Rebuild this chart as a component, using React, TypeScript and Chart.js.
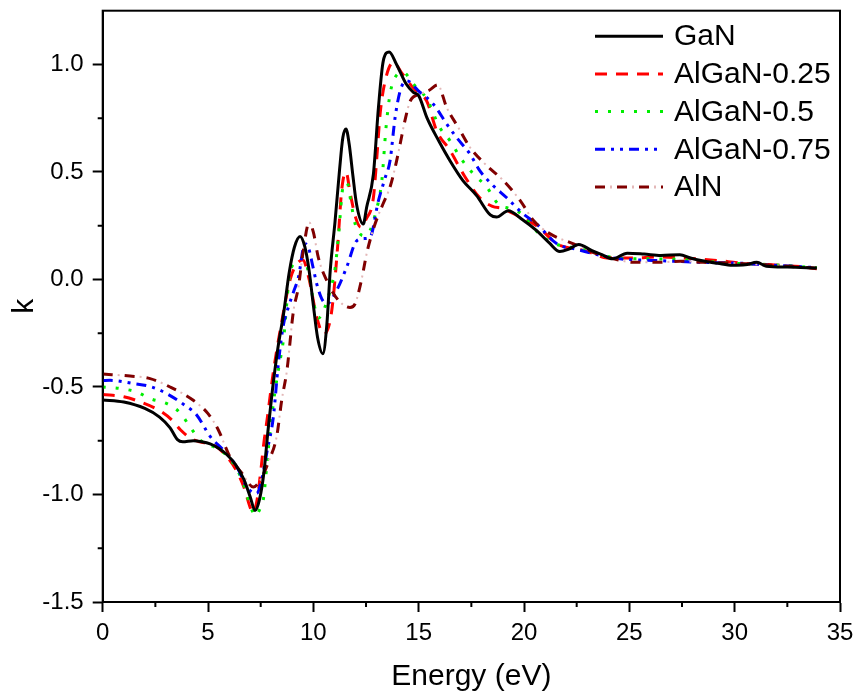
import React, { useEffect, useRef } from "react";
import { Chart, registerables } from "chart.js";

Chart.register(...registerables);

// ---------- data ----------
const seriesNames = ["GaN", "AlGaN-0.25", "AlGaN-0.5", "AlGaN-0.75", "AlN"];

const ganE = [0, 1.0, 2.0, 2.7, 3.2, 3.55, 3.8, 4.3, 4.7, 5.1, 5.5, 5.9, 6.3, 6.7, 7.0, 7.23, 7.45, 7.65, 7.85, 8.05, 8.3, 8.6, 8.85, 9.1, 9.37, 9.6, 9.8, 10.0, 10.2, 10.45, 10.64, 10.8, 11.03, 11.24, 11.4, 11.55, 11.7, 11.88, 12.05, 12.37, 12.53, 12.85, 13.09, 13.32, 13.6, 13.95, 14.4, 14.75, 15.0, 15.4, 15.95, 16.5, 17.1, 17.75, 18.4, 18.7, 19.25, 19.9, 20.6, 21.2, 21.7, 22.1, 22.6, 23.2, 23.7, 24.2, 24.9, 25.7, 26.5, 27.4, 27.9, 28.4, 29.2, 29.9, 30.5, 31.05, 31.5, 32.5, 33.9];
const ganK = [-0.56, -0.57, -0.6, -0.64, -0.69, -0.745, -0.755, -0.75, -0.755, -0.765, -0.785, -0.815, -0.86, -0.93, -1.01, -1.075, -1.02, -0.9, -0.7, -0.52, -0.33, -0.15, 0.03, 0.15, 0.2, 0.15, 0.04, -0.12, -0.27, -0.345, -0.21, 0.04, 0.27, 0.506, 0.66, 0.7, 0.63, 0.48, 0.35, 0.258, 0.336, 0.49, 0.8, 1.017, 1.058, 1.0, 0.91, 0.87, 0.855, 0.75, 0.645, 0.55, 0.46, 0.39, 0.3, 0.29, 0.32, 0.28, 0.227, 0.17, 0.13, 0.14, 0.163, 0.135, 0.115, 0.096, 0.122, 0.118, 0.112, 0.115, 0.1, 0.088, 0.075, 0.066, 0.068, 0.08, 0.062, 0.058, 0.053];

const al25E = [0, 1.0, 1.8, 2.7, 3.3, 3.7, 4.2, 4.6, 5.1, 5.5, 5.9, 6.3, 6.7, 7.0, 7.12, 7.3, 7.47, 7.65, 7.8, 8.1, 8.42, 8.9, 9.2, 9.5, 9.8, 10.16, 10.5, 10.8, 10.95, 11.15, 11.35, 11.55, 11.75, 12.0, 12.25, 12.5, 12.85, 13.0, 13.17, 13.4, 13.8, 14.2, 14.75, 15.38, 15.86, 16.49, 17.12, 17.9, 18.5, 19.0, 19.8, 20.6, 21.56, 22.0, 22.66, 23.3, 23.93, 25.2, 26.3, 27.5, 29.0, 30.5, 31.5, 33.1, 33.9];
const al25K = [-0.535, -0.545, -0.57, -0.61, -0.655, -0.7, -0.74, -0.755, -0.765, -0.785, -0.825, -0.88, -0.965, -1.06, -1.085, -1.04, -0.92, -0.76, -0.655, -0.43, -0.24, 0.0, 0.07, 0.09, 0.0, -0.175, -0.255, -0.19, -0.08, 0.15, 0.42, 0.5, 0.4, 0.29, 0.243, 0.28, 0.38, 0.55, 0.77, 0.92, 1.01, 0.96, 0.89, 0.83, 0.69, 0.6, 0.49, 0.38, 0.34, 0.33, 0.29, 0.25, 0.166, 0.15, 0.14, 0.12, 0.1, 0.1, 0.105, 0.1, 0.09, 0.075, 0.07, 0.06, 0.05];

const al50E = [0, 0.8, 1.6, 2.25, 3.1, 3.67, 4.15, 4.62, 5.1, 5.5, 5.9, 6.3, 6.68, 7.0, 7.25, 7.45, 7.63, 7.85, 8.1, 8.34, 8.58, 8.89, 9.2, 9.5, 9.8, 10.0, 10.24, 10.5, 10.8, 11.03, 11.19, 11.43, 11.6, 11.8, 11.98, 12.37, 12.7, 12.93, 13.25, 13.45, 13.64, 13.88, 14.27, 14.75, 15.38, 16.0, 16.49, 16.97, 17.6, 18.23, 18.78, 19.3, 19.82, 20.75, 21.48, 22.2, 22.98, 24.33, 25.52, 27.0, 28.5, 30.0, 31.5, 33.9];
const al50K = [-0.5, -0.507, -0.523, -0.554, -0.58, -0.62, -0.686, -0.747, -0.77, -0.79, -0.82, -0.87, -0.95, -1.05, -1.1, -1.07, -1.02, -0.8, -0.577, -0.42, -0.28, 0.03, 0.08, 0.1, 0.02, -0.1, -0.18, -0.14, -0.05, 0.05, 0.2, 0.44, 0.45, 0.35, 0.26, 0.204, 0.23, 0.3, 0.46, 0.707, 0.862, 0.94, 0.963, 0.908, 0.84, 0.707, 0.645, 0.568, 0.49, 0.43, 0.35, 0.33, 0.31, 0.21, 0.166, 0.15, 0.135, 0.1, 0.096, 0.095, 0.085, 0.075, 0.07, 0.055];

const al75E = [0, 0.35, 1.45, 2.33, 3.04, 3.9, 4.46, 5.1, 5.73, 6.36, 6.84, 7.1, 7.31, 7.55, 7.8, 8.1, 8.34, 8.58, 8.81, 9.05, 9.29, 9.6, 9.76, 10.0, 10.16, 10.4, 10.64, 11.11, 11.58, 12.06, 12.4, 12.69, 13.09, 13.4, 13.64, 13.88, 14.12, 14.43, 14.99, 15.7, 16.33, 16.8, 17.44, 17.9, 18.5, 19.18, 19.9, 20.6, 21.56, 22.5, 23.5, 24.56, 26.3, 28.36, 30.4, 31.5, 33.9];
const al75K = [-0.47, -0.469, -0.484, -0.5, -0.531, -0.585, -0.63, -0.73, -0.794, -0.87, -0.964, -0.99, -0.995, -0.93, -0.8, -0.64, -0.39, -0.21, -0.13, -0.06, 0.01, 0.166, 0.15, 0.05, -0.02, -0.09, -0.113, -0.05, 0.057, 0.18, 0.19, 0.196, 0.367, 0.47, 0.552, 0.753, 0.877, 0.924, 0.877, 0.815, 0.723, 0.66, 0.583, 0.506, 0.44, 0.38, 0.31, 0.258, 0.166, 0.14, 0.115, 0.096, 0.088, 0.08, 0.075, 0.068, 0.055];

const alnE = [0, 1.3, 2.25, 3.2, 4.3, 5.0, 5.49, 6.04, 6.6, 7.15, 7.5, 7.9, 8.26, 8.5, 8.75, 9.05, 9.3, 9.5, 9.8, 10.0, 10.24, 10.71, 11.19, 11.74, 11.98, 12.29, 12.53, 12.9, 13.3, 13.64, 13.88, 14.12, 14.35, 14.6, 15.07, 15.5, 15.9, 16.33, 16.88, 17.44, 18.15, 19.02, 19.82, 20.45, 21.24, 22.35, 23.46, 24.3, 25.2, 26.5, 27.41, 28.5, 30.0, 31.5, 33.9];
const alnK = [-0.44, -0.449, -0.461, -0.5, -0.562, -0.624, -0.7, -0.825, -0.9, -0.965, -0.93, -0.84, -0.73, -0.56, -0.42, -0.15, -0.03, 0.12, 0.265, 0.22, 0.1, -0.02, -0.097, -0.13, -0.113, 0.0, 0.12, 0.25, 0.35, 0.43, 0.52, 0.63, 0.74, 0.83, 0.862, 0.88, 0.905, 0.8, 0.707, 0.614, 0.537, 0.46, 0.367, 0.274, 0.212, 0.166, 0.119, 0.095, 0.08, 0.08, 0.085, 0.08, 0.075, 0.068, 0.052];

const xMinorTicks = [2.5, 7.5, 12.5, 17.5, 22.5, 27.5, 32.5];
const yMinorTicks = [-1.25, -0.75, -0.25, 0.25, 0.75];

// ---------- styles ----------
const FONT = "'Liberation Sans', Arial, Helvetica, sans-serif";
const colors = ["#000000", "#ff0000", "#00ee00", "#0000ff", "#800000"];
const dashes: number[][] = [[], [12, 9], [3, 10], [10, 6, 3, 6, 3, 6], [10, 12]];
const ALN_DOT = "#e3b8b8";

const pts = (xs: number[], ys: number[]) => xs.map((x, i) => ({ x, y: ys[i] }));

const decorPlugin = {
  id: "decor",
  afterDraw(chart: any) {
    const { ctx, chartArea: a, scales } = chart;
    const x = scales.x;
    const y = scales.y;
    ctx.save();
    ctx.strokeStyle = "#000";
    ctx.lineWidth = 2;
    ctx.setLineDash([]);
    ctx.strokeRect(a.left, a.top, a.right - a.left, a.bottom - a.top);
    ctx.beginPath();
    for (const v of xMinorTicks) {
      const px = x.getPixelForValue(v);
      ctx.moveTo(px, a.bottom);
      ctx.lineTo(px, a.bottom + 5);
    }
    for (const v of yMinorTicks) {
      const py = y.getPixelForValue(v);
      ctx.moveTo(a.left, py);
      ctx.lineTo(a.left - 5, py);
    }
    ctx.stroke();

    // legend
    const lx0 = a.right - 245;
    const lx1 = a.right - 177;
    const tx = a.right - 166;
    const rowY0 = a.top + 25.5;
    const rowGap = 37.7;
    ctx.font = `30px ${FONT}`;
    ctx.textBaseline = "middle";
    ctx.textAlign = "left";
    seriesNames.forEach((name, i) => {
      const ry = rowY0 + i * rowGap;
      ctx.lineWidth = 3;
      ctx.strokeStyle = colors[i];
      ctx.setLineDash(dashes[i]);
      ctx.lineDashOffset = 0;
      ctx.beginPath();
      ctx.moveTo(lx0, ry);
      ctx.lineTo(lx1, ry);
      ctx.stroke();
      if (i === 4) {
        ctx.strokeStyle = ALN_DOT;
        ctx.setLineDash([2, 20]);
        ctx.lineDashOffset = -15;
        ctx.beginPath();
        ctx.moveTo(lx0, ry);
        ctx.lineTo(lx1, ry);
        ctx.stroke();
      }
      ctx.setLineDash([]);
      ctx.fillStyle = "#000";
      ctx.fillText(name, tx, ry + 1);
    });
    ctx.restore();
  },
};

export default function App() {
  const ref = useRef<HTMLCanvasElement | null>(null);

  useEffect(() => {
    if (!ref.current) return;
    Chart.defaults.font.family = FONT;
    Chart.defaults.color = "#000";
    const allSeries = [pts(ganE, ganK), pts(al25E, al25K), pts(al50E, al50K), pts(al75E, al75K), pts(alnE, alnK)];
    const datasets: any[] = allSeries.map((data, i) => ({
      label: seriesNames[i],
      data,
      borderColor: colors[i],
      borderWidth: 3,
      borderDash: dashes[i],
      pointRadius: 0,
      fill: false,
      cubicInterpolationMode: "monotone",
      order: i === 0 ? 0 : 10 - i,
    }));
    datasets.push({
      label: "AlN-dots",
      data: allSeries[4],
      borderColor: ALN_DOT,
      borderWidth: 2,
      borderDash: [2, 20],
      borderDashOffset: -15,
      pointRadius: 0,
      fill: false,
      cubicInterpolationMode: "monotone",
      order: 5,
    });

    const chart = new Chart(ref.current, {
      type: "line",
      data: { datasets },
      plugins: [decorPlugin],
      options: {
        animation: false,
        responsive: false,
        devicePixelRatio: 1,
        layout: { padding: { top: 10.7, right: 16, bottom: 0, left: 0 } },
        plugins: { legend: { display: false }, tooltip: { enabled: false } },
        scales: {
          x: {
            type: "linear",
            min: 0,
            max: 35,
            afterFit: (s: any) => { s.height = 96; s.paddingLeft = 0; s.paddingRight = 0; },
            ticks: { stepSize: 5, font: { size: 24 }, padding: 7, maxRotation: 0, includeBounds: false, callback: (v: any) => String(v) },
            grid: { drawOnChartArea: false, drawTicks: true, tickLength: 10, tickColor: "#000", tickWidth: 2 },
            border: { display: true, color: "#000", width: 2 },
            title: { display: true, text: "Energy (eV)", font: { size: 30 }, padding: { top: 0, bottom: 3 } },
          },
          y: {
            type: "linear",
            min: -1.5,
            max: 1.25,
            afterFit: (s: any) => { s.width = 102.7; s.paddingTop = 0; s.paddingBottom = 0; },
            ticks: { stepSize: 0.5, font: { size: 24 }, padding: 9, includeBounds: false, callback: (v: any) => Number(v).toFixed(1) },
            grid: { drawOnChartArea: false, drawTicks: true, tickLength: 10, tickColor: "#000", tickWidth: 2 },
            border: { display: true, color: "#000", width: 2 },
            title: { display: true, text: "k", font: { size: 30 }, padding: { top: 7, bottom: 0 } },
          },
        },
      } as any,
    });
    return () => chart.destroy();
  }, []);

  return (
    <div style={{ position: "absolute", left: 0, top: 0, width: 856, height: 698, background: "#fff" }}>
      <canvas ref={ref} width={856} height={698} />
    </div>
  );
}
